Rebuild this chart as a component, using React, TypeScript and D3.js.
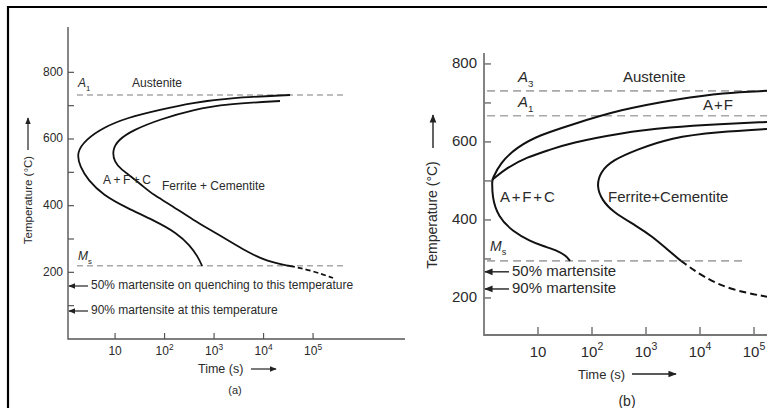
import React from 'react';
import * as d3 from 'd3';

// time (s), temperature (°C)
const leftStart: [number, number][] = [
  [34300, 732], [1830, 723], [377, 709], [81, 688], [17.5, 664], [5.7, 634],
  [2.6, 599], [1.65, 560], [1.96, 516], [2.85, 477], [5.7, 432], [17.5, 393],
  [58.6, 357], [179, 318], [327, 280], [475, 246], [573, 219],
];
const leftFinish: [number, number][] = [
  [21500, 714], [1830, 705], [377, 688], [81, 659], [23.1, 627], [11.5, 597],
  [8.8, 567], [9.6, 531], [13.8, 507], [20.1, 490], [36.8, 458], [60, 432],
  [129, 404], [377, 357], [1150, 316], [3850, 268], [11800, 232], [34300, 219],
];
const leftFinishBelowMs: [number, number][] = [[34300, 219], [86900, 207], [253000, 183]];

const rightStart: [number, number][] = [
  [174000, 731], [26700, 726], [4270, 711], [330, 683], [39.2, 643], [10.9, 618],
  [4.08, 587], [1.98, 546], [1.42, 503], [1.42, 503], [1.41, 459], [1.82, 408], [3.44, 370],
  [7.11, 346], [12.4, 333], [23.4, 321], [33, 308], [39.2, 295],
];
const rightPearliteStart: [number, number][] = [
  [1.42, 503], [2.67, 534], [6.25, 561], [16.7, 580], [39.2, 597], [330, 623],
  [2780, 638], [23400, 646], [174000, 651],
];
const rightFinish: [number, number][] = [
  [174000, 633], [23400, 626], [2780, 611], [681, 580], [245, 554], [141, 523],
  [122, 485], [153, 451], [245, 420], [681, 384], [1290, 358], [2450, 325], [4450, 295],
];
const rightFinishBelowMs: [number, number][] = [[4450, 295], [11400, 254], [36000, 221], [174000, 203]];

const timeTicks = [10, 100, 1000, 10000, 100000];
const leftTempTicks = [100, 200, 300, 400, 500, 600, 700, 800];
const rightTempTicks = [200, 300, 400, 500, 600, 700, 800];
const tempLabels = [200, 400, 600, 800];

const leftA1 = 732;
const leftMs = 220;
const left50 = 159;
const left90 = 84;
const rightA3 = 731;
const rightA1 = 667;
const rightMs = 295;
const right50 = 267;
const right90 = 223;

const font = "'Liberation Sans', Arial, sans-serif";
const ink = '#2a2a2a';
const dashGrey = '#a8a8a8';

function Sup({ t, size }: { t: number; size: number }) {
  const e = Math.round(Math.log10(t));
  if (e === 1) return <tspan>10</tspan>;
  return (
    <>
      <tspan>10</tspan>
      <tspan dy={-size * 0.45} fontSize={size * 0.7}>{e}</tspan>
    </>
  );
}

function Sub({ a, n, size }: { a: string; n: string; size: number }) {
  return (
    <>
      <tspan fontStyle="italic">{a}</tspan>
      <tspan dy={size * 0.3} fontSize={size * 0.65}>{n}</tspan>
    </>
  );
}

export default function App() {
  const lx = d3.scaleLog().domain([1.12, 7.2e6]).range([68, 405]);
  const ly = d3.scaleLinear().domain([0, 936]).range([339, 27]);
  const rx = d3.scaleLog().domain([1, 1.74e5]).range([484, 767]);
  const ry = d3.scaleLinear().domain([105, 828]).range([335, 53]);

  const leftLine = d3
    .line<[number, number]>()
    .x((d) => lx(d[0]))
    .y((d) => ly(d[1]))
    .curve(d3.curveBasis);
  const rightLine = d3
    .line<[number, number]>()
    .x((d) => rx(d[0]))
    .y((d) => ry(d[1]))
    .curve(d3.curveBasis);

  const fl = 12;
  const fr = 15;

  return (
    <svg
      width={767}
      height={408}
      style={{ position: 'absolute', left: 0, top: 0, background: '#fff' }}
      fontFamily={font}
    >
      <defs>
        <marker id="head" viewBox="0 0 10 10" refX="9" refY="5" markerWidth="6" markerHeight="6" orient="auto-start-reverse">
          <path d="M0 1 L10 5 L0 9 z" fill="#222" />
        </marker>
      </defs>
      <path d="M8 410 V7 H770" fill="none" stroke="#000" strokeWidth={2.2} />

      {/* ---------- panel (a) ---------- */}
      <g fill={ink}>
        <path d={`M68 ${ly(936)} V${ly(0)} H405`} fill="none" stroke="#555" strokeWidth={1.4} />
        {leftTempTicks.map((t) => (
          <line key={t} x1={68} x2={74} y1={ly(t)} y2={ly(t)} stroke="#555" strokeWidth={1.2} />
        ))}
        {tempLabels.map((t) => (
          <text key={t} x={63} y={ly(t)} textAnchor="end" dominantBaseline="middle" fontSize={fl}>{t}</text>
        ))}
        {timeTicks.map((t) => (
          <g key={t}>
            <line x1={lx(t)} x2={lx(t)} y1={339} y2={333} stroke="#555" strokeWidth={1.2} />
            <text x={lx(t)} y={355} textAnchor="middle" fontSize={fl}><Sup t={t} size={fl} /></text>
          </g>
        ))}
        <line x1={lx(1.7)} x2={lx(4.04e5)} y1={ly(leftA1)} y2={ly(leftA1)} stroke={dashGrey} strokeWidth={1.5} strokeDasharray="6 4" />
        <line x1={lx(1.7)} x2={lx(4.04e5)} y1={ly(leftMs)} y2={ly(leftMs)} stroke={dashGrey} strokeWidth={1.5} strokeDasharray="6 4" />
        <path d={leftLine(leftStart) ?? ''} fill="none" stroke="#111" strokeWidth={1.8} />
        <path d={leftLine(leftFinish) ?? ''} fill="none" stroke="#111" strokeWidth={1.8} />
        <path d={leftLine(leftFinishBelowMs) ?? ''} fill="none" stroke="#111" strokeWidth={1.8} strokeDasharray="5 3" />

        <text x={78} y={87} fontSize={fl}><Sub a="A" n="1" size={fl} /></text>
        <text x={132} y={87} fontSize={fl}>Austenite</text>
        <text x={78} y={260} fontSize={fl}><Sub a="M" n="s" size={fl} /></text>
        <text x={103} y={184} fontSize={fl} letterSpacing={2.5}>A+F+C</text>
        <text x={162} y={190} fontSize={fl}>Ferrite + Cementite</text>

        <line x1={88} x2={69} y1={ly(left50)} y2={ly(left50)} stroke="#222" strokeWidth={1.2} markerEnd="url(#head)" />
        <text x={91} y={ly(left50)} dominantBaseline="middle" fontSize={fl}>50% martensite on quenching to this temperature</text>
        <line x1={88} x2={69} y1={ly(left90)} y2={ly(left90)} stroke="#222" strokeWidth={1.2} markerEnd="url(#head)" />
        <text x={91} y={ly(left90)} dominantBaseline="middle" fontSize={fl}>90% martensite at this temperature</text>

        <text x={198} y={373} fontSize={12.5}>Time (s)</text>
        <line x1={251} x2={276} y1={369} y2={369} stroke="#222" strokeWidth={1.2} markerEnd="url(#head)" />
        <text x={235} y={394} textAnchor="middle" fontSize={fl - 1}>(a)</text>

        <g transform="translate(32 200) rotate(-90)">
          <text x={0} y={0} textAnchor="middle" fontSize={11.5}>Temperature (°C)</text>
        </g>
        <line x1={28} x2={28} y1={150} y2={118} stroke="#222" strokeWidth={1.2} markerEnd="url(#head)" />
      </g>

      {/* ---------- panel (b) ---------- */}
      <g fill={ink}>
        <path d={`M484 ${ry(828)} V${ry(105)} H767`} fill="none" stroke="#777" strokeWidth={1.8} />
        {rightTempTicks.map((t) => (
          <line key={t} x1={484} x2={491} y1={ry(t)} y2={ry(t)} stroke="#777" strokeWidth={1.5} />
        ))}
        {tempLabels.map((t) => (
          <text key={t} x={477} y={ry(t)} textAnchor="end" dominantBaseline="middle" fontSize={fr}>{t}</text>
        ))}
        {timeTicks.map((t) => (
          <g key={t}>
            <line x1={rx(t)} x2={rx(t)} y1={335} y2={327} stroke="#777" strokeWidth={1.5} />
            <text x={rx(t)} y={357} textAnchor="middle" fontSize={fr}><Sup t={t} size={fr} /></text>
          </g>
        ))}
        <line x1={rx(1.14)} x2={767} y1={ry(rightA3)} y2={ry(rightA3)} stroke={dashGrey} strokeWidth={1.6} strokeDasharray="8 5" />
        <line x1={rx(1.14)} x2={767} y1={ry(rightA1)} y2={ry(rightA1)} stroke={dashGrey} strokeWidth={1.6} strokeDasharray="8 5" />
        <line x1={rx(1.14)} x2={rx(6e4)} y1={ry(rightMs)} y2={ry(rightMs)} stroke={dashGrey} strokeWidth={1.6} strokeDasharray="8 5" />
        <path d={rightLine(rightStart) ?? ''} fill="none" stroke="#111" strokeWidth={2} />
        <path d={rightLine(rightPearliteStart) ?? ''} fill="none" stroke="#111" strokeWidth={2} />
        <path d={rightLine(rightFinish) ?? ''} fill="none" stroke="#111" strokeWidth={2} />
        <path d={rightLine(rightFinishBelowMs) ?? ''} fill="none" stroke="#111" strokeWidth={2} strokeDasharray="7 4" />

        <text x={518} y={82} fontSize={fr}><Sub a="A" n="3" size={fr} /></text>
        <text x={518} y={107} fontSize={fr}><Sub a="A" n="1" size={fr} /></text>
        <text x={623} y={82} fontSize={fr}>Austenite</text>
        <text x={703} y={110} fontSize={fr} letterSpacing={1}>A+F</text>
        <text x={490} y={251} fontSize={fr - 1}><Sub a="M" n="s" size={fr - 1} /></text>
        <text x={500} y={202} fontSize={fr} letterSpacing={1.8}>A+F+C</text>
        <text x={608} y={202} fontSize={fr}>Ferrite+Cementite</text>

        <line x1={509} x2={485} y1={ry(right50)} y2={ry(right50)} stroke="#222" strokeWidth={1.4} markerEnd="url(#head)" />
        <text x={512} y={ry(right50)} dominantBaseline="middle" fontSize={fr}>50% martensite</text>
        <line x1={509} x2={485} y1={ry(right90)} y2={ry(right90)} stroke="#222" strokeWidth={1.4} markerEnd="url(#head)" />
        <text x={512} y={ry(right90)} dominantBaseline="middle" fontSize={fr}>90% martensite</text>

        <text x={578} y={379} fontSize={13}>Time (s)</text>
        <line x1={632} x2={676} y1={374} y2={374} stroke="#222" strokeWidth={1.4} markerEnd="url(#head)" />
        <text x={627} y={406} textAnchor="middle" fontSize={fr - 1}>(b)</text>

        <g transform="translate(437 215) rotate(-90)">
          <text x={0} y={0} textAnchor="middle" fontSize={14}>Temperature (°C)</text>
        </g>
        <line x1={433} x2={433} y1={148} y2={115} stroke="#222" strokeWidth={1.4} markerEnd="url(#head)" />
      </g>
    </svg>
  );
}
